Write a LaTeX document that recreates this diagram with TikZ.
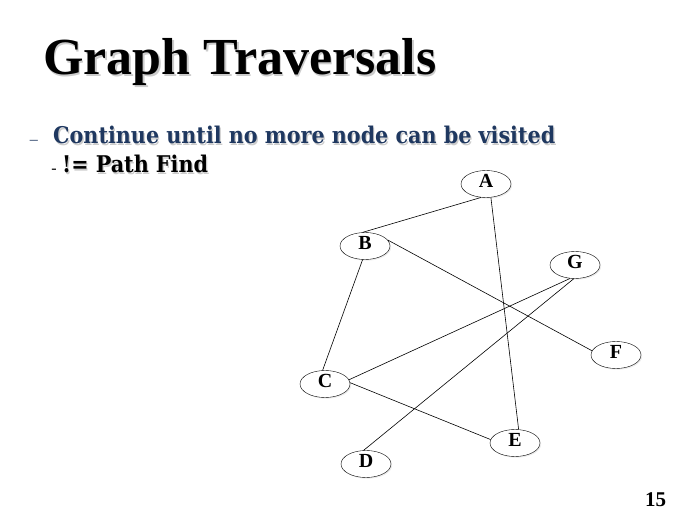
\documentclass[tikz,border=0pt]{standalone}
\usepackage{fontspec}
\usepackage{tikz}
\usetikzlibrary{positioning,shapes.geometric,shadows}
\setmainfont{Liberation Serif}
\newfontfamily\slidefont{DejaVu Serif Condensed}
\definecolor{slidenavy}{RGB}{31,56,96}
\tikzset{vertex/.style={ellipse, draw, fill=white, inner sep=0pt,
    minimum width=50pt, minimum height=27pt,
    font=\fontsize{20}{20}\selectfont\bfseries,
    text height=13pt, text depth=6pt,
    drop shadow={shadow xshift=1.2pt, shadow yshift=-1.2pt, fill=gray!30}},
  edge/.style={draw, line width=0.6pt},
  slidetext/.style={anchor=base west, inner sep=0pt}}

\begin{document}
\begin{tikzpicture}[x=1pt,y=-1pt]
\useasboundingbox (0,0) rectangle (680,510);
% title and bullets
\node[slidetext, gray!40] at (44.5,76.5) {\fontsize{52}{52}\selectfont\bfseries Graph Traversals};
\node[slidetext] (title) at (43,75) {\fontsize{52}{52}\selectfont\bfseries Graph Traversals};
\node[slidetext, gray!40] at (54.2,145.2) {\slidefont\fontsize{23}{23}\selectfont\bfseries Continue until no more node can be visited};
\node[slidetext, slidenavy] (item1) at (53,144) {\slidefont\fontsize{23}{23}\selectfont\bfseries Continue until no more node can be visited};
\node[anchor=base east, inner sep=0pt, slidenavy, left=15pt of item1.base west, yshift=2pt] (dash1) {\fontsize{16}{16}\selectfont --};
\node[slidetext, gray!40] at (63.2,174.2) {\slidefont\fontsize{23}{23}\selectfont\bfseries != Path Find};
\node[slidetext] (item2) at (62,173) {\slidefont\fontsize{23}{23}\selectfont\bfseries != Path Find};
\node[anchor=base east, inner sep=0pt, left=5pt of item2.base west, yshift=2pt] (dash2) {\fontsize{16}{16}\selectfont -};
\node[slidetext] (pagenum) at (645,506) {\fontsize{21}{21}\selectfont\bfseries 15};

% the graph
\node[vertex] (A) at (486,184) {A};
\node[vertex] (B) at (365,246) {B};
\node[vertex] (G) at (575,265) {G};
\node[vertex] (F) at (616,355) {F};
\node[vertex] (C) at (325,384) {C};
\node[vertex] (E) at (515,443) {E};
\node[vertex] (D) at (366,464) {D};

\draw[edge] (A.250) -- (B.100);
\draw[edge] (A.290) -- (E.75);
\draw[edge] (B.15) -- (F.170);
\draw[edge] (B.260) -- (C.100);
\draw[edge] (C.10) -- (G.250);
\draw[edge] (C.3) -- (E.172);
\draw[edge] (D.100) -- (G.265);
\end{tikzpicture}
\end{document}
